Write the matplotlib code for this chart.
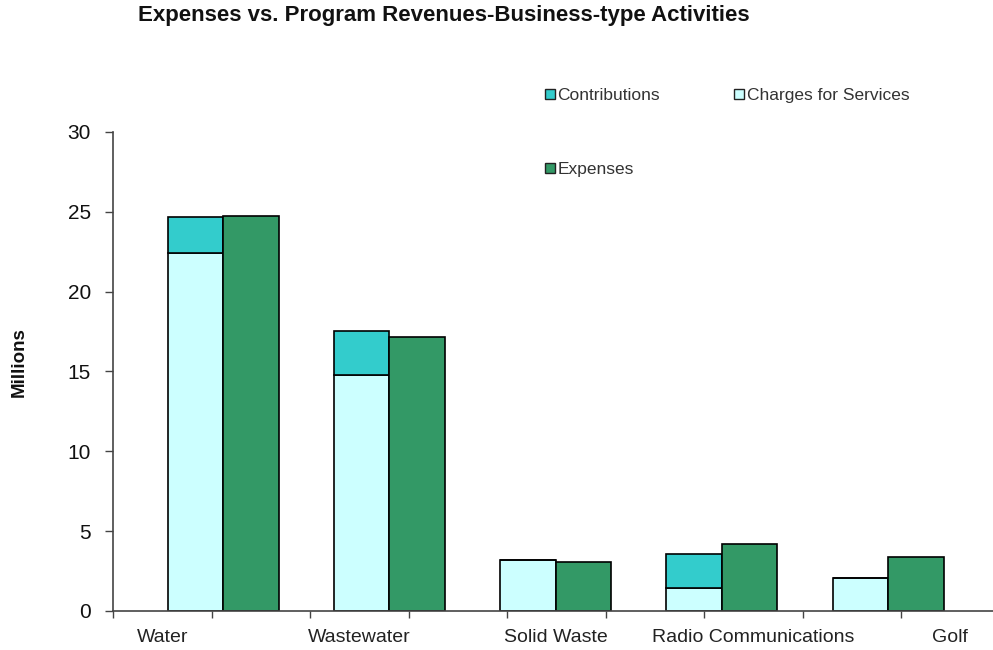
import numpy as np
import matplotlib
matplotlib.use("Agg")
import matplotlib.pyplot as plt
from matplotlib.patches import Patch

plt.rcParams["font.family"] = ["Liberation Sans", "DejaVu Sans"]

# ---- data (millions) ----
activities = ["Water", "Wastewater", "Solid Waste", "Radio Communications", "Golf"]
charges = [22.4, 14.8, 3.2, 1.42, 2.05]
contributions = [2.3, 2.75, 0.0, 2.13, 0.0]
expenses = [24.75, 17.18, 3.05, 4.18, 3.4]
y_ticks = [0, 5, 10, 15, 20, 25, 30]

# ---- colours ----
c_charges = "#CCFFFF"
c_contrib = "#33CCCC"
c_expenses = "#339966"
axis_col = "#444444"

fig = plt.figure(figsize=(9.93, 6.5), dpi=100)
ax = fig.add_axes([0.1138, 0.06, 0.886, 0.737])

# category slots on a 0..9 tick grid
n = len(activities)
group_x = 1.117 + 1.688 * np.arange(n)
w = 0.563

ax.bar(group_x - w / 2, charges, w, color=c_charges, edgecolor="black", linewidth=1.2)
ax.bar(group_x - w / 2, contributions, w, bottom=charges, color=c_contrib,
       edgecolor="black", linewidth=1.2)
ax.bar(group_x + w / 2, expenses, w, color=c_expenses, edgecolor="black", linewidth=1.2)

ax.set_xlim(0, 8.93)
ax.set_ylim(0, 30)

# y axis
ax.set_yticks(y_ticks)
ax.tick_params(axis="y", direction="out", length=6, width=1, color=axis_col,
               labelsize=15, pad=10, labelcolor="#111111")

# x axis: unlabeled ticks on the grid, labels between every other pair
ax.set_xticks(0.5 + 2 * np.arange(n))
ax.set_xticklabels(activities)
ax.set_xticks(np.arange(0, 9), minor=True)
ax.tick_params(axis="x", which="major", length=0, labelsize=14, pad=13,
               labelcolor="#222222")
ax.tick_params(axis="x", which="minor", direction="out", length=5, width=1,
               color=axis_col)

for s in ["top", "right"]:
    ax.spines[s].set_visible(False)
for s in ["left", "bottom"]:
    ax.spines[s].set_color(axis_col)
    ax.spines[s].set_linewidth(1.2)

fig.text(19 / 993, 1 - 362 / 650, "Millions", rotation=90, fontsize=13.5,
         fontweight="bold", ha="center", va="center", color="#111111")

fig.text(444 / 993, 1 - 16 / 650,
         "Expenses vs. Program Revenues-Business-type Activities",
         fontsize=16, fontweight="bold", ha="center", va="center", color="#111111")

# legend: two columns, filled column-wise
handles = [
    Patch(facecolor=c_contrib, edgecolor="#222222", label="Contributions"),
    Patch(facecolor=c_expenses, edgecolor="#222222", label="Expenses"),
    Patch(facecolor=c_charges, edgecolor="#222222", label="Charges for Services"),
]
fig.legend(handles=handles, ncol=2, frameon=False, fontsize=12.5,
           loc="upper left", bbox_to_anchor=(545 / 993, 1 - 88 / 650),
           borderpad=0, borderaxespad=0, handlelength=0.55, handleheight=0.55,
           handletextpad=0.15, columnspacing=4.3, labelspacing=3.4,
           labelcolor="#333333")

fig.savefig("out.png", dpi=100)
